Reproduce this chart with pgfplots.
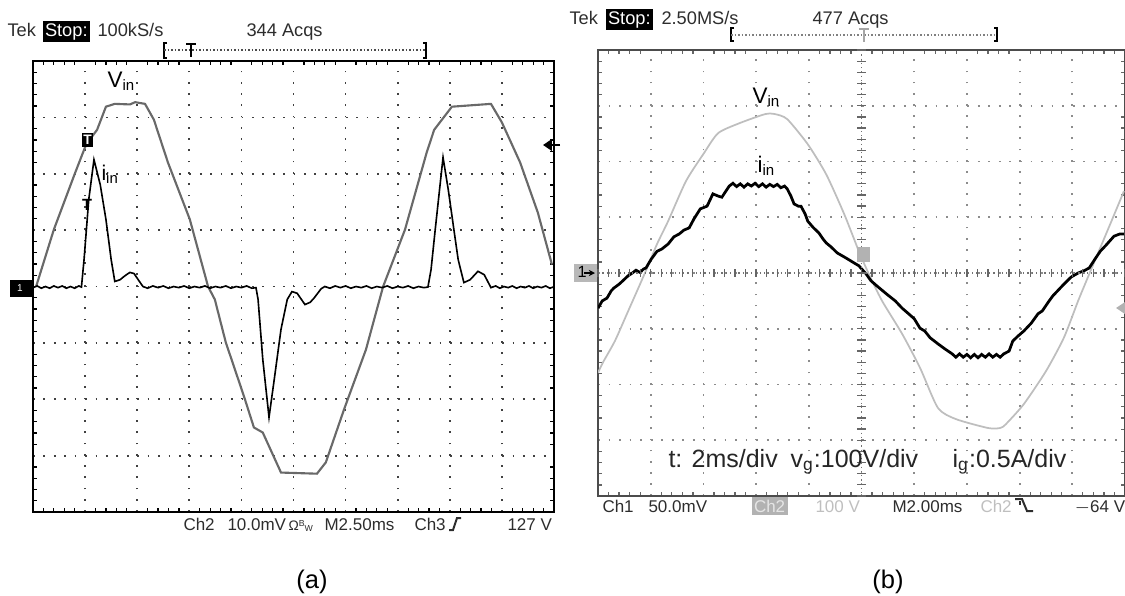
\documentclass[border=0pt]{standalone}
\usepackage{fontspec}
\setmainfont{Liberation Sans}
\usepackage{pgfplots}
\pgfplotsset{compat=1.18}
\usetikzlibrary{arrows.meta}
\definecolor{vinA}{RGB}{105,105,105}
\definecolor{vinB}{RGB}{190,190,190}
\definecolor{hdr}{RGB}{45,45,45}
\pgfplotsset{
  scopeaxis/.style={scale only axis, anchor=south west,
    xmin=0, xmax=10, ymin=-4, ymax=4,
    xtick={0,...,10}, ytick={-4,...,4}, xticklabels={}, yticklabels={},
    minor x tick num=4, minor y tick num=4,
    major tick length=0pt, minor tick length=1.6pt, tick align=inside,
    xmajorgrids, ymajorgrids, clip=true},
}
\newcommand{\hf}{\fontsize{7.3}{8}\selectfont}
\newcommand{\ff}{\fontsize{6.8}{8}\selectfont}
\begin{document}
\begin{tikzpicture}[x=0.4pt,y=-0.4pt]
\path[use as bounding box] (0,0) rectangle (1125,595);

% ---------------- panel (a) ----------------
\begin{axis}[scopeaxis, at={(13.2pt,-204.8pt)}, width=208.4pt, height=180.4pt,
  axis line style={black, line width=0.6pt},
  minor tick style={black, line width=0.5pt},
  major x grid style={black!75, line width=0.7pt, dash pattern=on 0.7pt off 3.81pt},
  major y grid style={black!75, line width=0.7pt, dash pattern=on 0.7pt off 3.47pt}]
\addplot[no marks, color=vinA, line width=0.85pt] table {
x y
0.06 0.00
0.40 1.01
0.81 2.02
1.02 2.52
1.23 2.78
1.40 3.19
1.57 3.24
1.86 3.23
1.96 3.27
2.15 3.24
2.32 2.96
2.59 2.20
3.01 1.19
3.36 0.00
3.49 -0.23
3.70 -0.99
4.05 -1.95
4.24 -2.50
4.41 -2.59
4.76 -3.30
5.45 -3.32
5.62 -3.12
5.97 -2.18
6.39 -1.12
6.72 0.00
7.14 1.01
7.56 2.39
7.70 2.78
8.04 3.19
8.79 3.24
9.00 2.91
9.35 2.20
9.69 1.31
9.96 0.39
};
\addplot[no marks, color=black, line width=0.65pt] table {
x y
0.00 -0.02
0.08 0.01
0.16 -0.03
0.24 0.00
0.32 -0.03
0.40 0.01
0.48 -0.02
0.56 0.01
0.64 -0.03
0.72 0.00
0.80 -0.03
0.88 0.01
0.93 -0.01
0.98 0.48
1.07 1.54
1.17 2.25
1.29 1.81
1.40 1.19
1.50 0.48
1.57 0.09
1.67 0.12
1.75 0.18
1.81 0.22
1.86 0.25
1.94 0.23
2.02 0.12
2.11 0.00
2.20 -0.03
2.30 0.01
2.40 -0.02
2.50 0.01
2.60 -0.03
2.70 0.00
2.80 -0.02
2.90 0.01
3.00 -0.03
3.10 0.00
3.20 -0.02
3.30 0.01
3.40 -0.03
3.50 0.00
3.60 -0.02
3.70 0.01
3.80 -0.03
3.90 0.00
4.00 -0.02
4.10 0.01
4.20 -0.03
4.28 -0.02
4.32 -0.23
4.41 -1.29
4.53 -2.32
4.63 -1.65
4.76 -0.76
4.88 -0.23
4.97 -0.09
5.07 -0.12
5.22 -0.32
5.32 -0.28
5.39 -0.21
5.53 -0.04
5.60 0.00
5.70 -0.03
5.80 0.01
5.90 -0.02
6.00 0.01
6.10 -0.03
6.20 0.00
6.30 -0.02
6.40 0.01
6.50 -0.03
6.60 0.00
6.70 -0.02
6.80 0.01
6.90 -0.03
7.00 0.00
7.10 -0.02
7.20 0.01
7.30 -0.03
7.40 0.00
7.50 -0.02
7.58 -0.01
7.64 0.30
7.72 1.01
7.87 2.29
7.97 1.72
8.06 1.13
8.16 0.48
8.27 0.07
8.39 0.12
8.54 0.27
8.66 0.21
8.79 -0.02
8.88 0.01
8.96 -0.03
9.04 0.00
9.12 -0.02
9.20 0.01
9.28 -0.03
9.36 0.00
9.44 -0.02
9.52 0.01
9.60 -0.03
9.68 0.00
9.76 -0.02
9.84 0.01
9.92 -0.03
9.98 -0.01
};
\end{axis}

% ---------------- panel (b) ----------------
\begin{axis}[scopeaxis, at={(239.2pt,-198.4pt)}, width=210.8pt, height=178.4pt,
  axis line style={black!70, line width=0.6pt},
  minor tick style={black!60, line width=0.5pt},
  major x grid style={black!45, line width=0.7pt, dash pattern=on 0.7pt off 3.76pt},
  major y grid style={black!45, line width=0.7pt, dash pattern=on 0.7pt off 3.52pt}]
\addplot[no marks, color=vinB, line width=0.7pt, smooth, tension=0.4] table {
x y
0.00 -1.79
0.09 -1.61
0.32 -1.22
0.55 -0.73
0.89 0.00
1.12 0.52
1.33 0.93
1.67 1.65
2.01 2.15
2.28 2.51
2.69 2.69
3.17 2.85
3.36 2.85
3.59 2.76
3.98 2.31
4.33 1.77
4.67 1.06
4.95 0.39
5.14 -0.02
5.39 -0.50
5.77 -1.09
6.11 -1.70
6.45 -2.42
6.79 -2.62
7.40 -2.78
7.63 -2.78
7.74 -2.71
8.08 -2.35
8.50 -1.76
8.84 -1.16
9.11 -0.50
9.32 -0.02
9.72 0.88
9.98 1.47
};
\addplot[no marks, color=black, line width=1.1pt] table {
x y
0.00 -0.63
0.08 -0.50
0.17 -0.45
0.25 -0.32
0.30 -0.27
0.40 -0.20
0.47 -0.14
0.57 -0.05
0.65 0.00
0.72 0.05
0.80 0.01
0.86 0.07
0.91 0.09
1.01 0.25
1.12 0.39
1.21 0.43
1.33 0.52
1.44 0.65
1.54 0.70
1.63 0.77
1.73 0.81
1.82 0.97
1.94 1.15
2.07 1.20
2.18 1.42
2.28 1.38
2.35 1.36
2.49 1.56
2.56 1.61
2.63 1.55
2.70 1.60
2.77 1.54
2.84 1.60
2.91 1.56
2.98 1.61
3.05 1.55
3.12 1.60
3.19 1.54
3.26 1.59
3.33 1.55
3.40 1.59
3.47 1.53
3.54 1.56
3.59 1.51
3.66 1.38
3.72 1.24
3.80 1.20
3.85 1.20
3.93 1.06
3.98 0.93
4.08 0.82
4.19 0.72
4.27 0.61
4.33 0.54
4.42 0.47
4.54 0.36
4.65 0.30
4.74 0.25
4.86 0.18
4.95 0.13
5.09 -0.02
5.18 -0.14
5.29 -0.23
5.48 -0.38
5.64 -0.50
5.77 -0.63
5.88 -0.72
6.00 -0.82
6.11 -0.99
6.20 -1.04
6.30 -1.16
6.45 -1.27
6.58 -1.36
6.72 -1.45
6.79 -1.51
6.86 -1.45
6.93 -1.51
7.00 -1.46
7.07 -1.52
7.14 -1.46
7.21 -1.52
7.28 -1.46
7.35 -1.51
7.42 -1.45
7.49 -1.51
7.56 -1.46
7.63 -1.51
7.70 -1.45
7.74 -1.43
7.80 -1.40
7.87 -1.22
7.97 -1.13
8.08 -1.04
8.22 -0.90
8.35 -0.73
8.43 -0.68
8.56 -0.50
8.63 -0.41
8.75 -0.29
8.84 -0.20
8.98 -0.07
9.11 0.00
9.22 0.04
9.32 0.09
9.43 0.25
9.53 0.39
9.64 0.50
9.79 0.66
9.90 0.70
9.98 0.70
};
\end{axis}

% centre cross of panel (b)
\draw[black!55, line width=0.6pt, dash pattern=on 0.5pt off 1.2pt] (861.5,50) -- (861.5,496);
\draw[black!55, line width=0.6pt, dash pattern=on 0.5pt off 1.2pt] (598,273) -- (1125,273);
\foreach \k in {0,...,50} \draw[black!60, line width=0.5pt] ({598+\k*10.54},269) -- ({598+\k*10.54},277);
\foreach \k in {0,...,40} \draw[black!60, line width=0.5pt] (857,{50+\k*11.15}) -- (866,{50+\k*11.15});

% ---------------- headers (a) ----------------
\node[anchor=base west, inner sep=0pt, text=hdr] at (7,36) {\hf Tek};
\node[anchor=base west, fill=black, text=white, inner sep=1pt] at (42,36) {\hf Stop:};
\node[anchor=base west, inner sep=0pt, text=hdr] at (97,36) {\hf 100kS/s};
\node[anchor=base west, inner sep=0pt, text=hdr] at (246,36) {\hf 344 Acqs};
\draw[black, line width=0.8pt] (167,43) -- (164,43) -- (164,58) -- (167,58);
\draw[black, line width=0.8pt] (423,43) -- (426,43) -- (426,58) -- (423,58);
\draw[black!70, line width=0.5pt, dash pattern=on 0.6pt off 0.8pt] (164,50) -- (426,50);
\draw[black, line width=0.8pt] (186,44) -- (196,44) (191,44) -- (191,57);

% ---------------- headers (b) ----------------
\node[anchor=base west, inner sep=0pt, text=hdr] at (569,24) {\hf Tek};
\node[anchor=base west, fill=black, text=white, inner sep=1pt] at (605,24) {\hf Stop:};
\node[anchor=base west, inner sep=0pt, text=hdr] at (661,24) {\hf 2.50MS/s};
\node[anchor=base west, inner sep=0pt, text=hdr] at (812,24) {\hf 477 Acqs};
\draw[black, line width=0.8pt] (734,28) -- (731,28) -- (731,41) -- (734,41);
\draw[black, line width=0.8pt] (994,28) -- (997,28) -- (997,41) -- (994,41);
\draw[black!50, line width=0.5pt, dash pattern=on 0.6pt off 0.8pt] (731,35) -- (997,35);
\draw[black!35, line width=0.9pt] (859,29) -- (869,29) (864,29) -- (864,42);

% ---------------- footers ----------------
\node[anchor=base west, inner sep=0pt, text=hdr] at (183,530) {\ff Ch2};
\node[anchor=base west, inner sep=0pt, text=hdr] at (227,530) {\ff 10.0mV};
\node[anchor=base west, inner sep=0pt, text=hdr] at (288,530) {\fontsize{5.5}{6}\selectfont Ω\raisebox{1.5pt}{\fontsize{3.5}{4}\selectfont B}\raisebox{-0.5pt}{\fontsize{3.5}{4}\selectfont W}};
\node[anchor=base west, inner sep=0pt, text=hdr] at (324,530) {\ff M2.50ms};
\node[anchor=base west, inner sep=0pt, text=hdr] at (414,530) {\ff Ch3};
\draw[hdr, line width=0.8pt] (449,530) -- (453,530) -- (457,518) -- (461,518);
\node[anchor=base west, inner sep=0pt, text=hdr] at (507,530) {\ff 127 V};

\node[anchor=base west, inner sep=0pt, text=hdr] at (602,512) {\ff Ch1};
\node[anchor=base west, inner sep=0pt, text=hdr] at (648,512) {\ff 50.0mV};
\node[anchor=base west, fill=black!30, text=black!10, inner sep=1pt] at (751,512) {\ff Ch2};
\node[anchor=base west, inner sep=0pt, text=black!25] at (815,512) {\ff 100 V};
\node[anchor=base west, inner sep=0pt, text=hdr] at (892,512) {\ff M2.00ms};
\node[anchor=base west, inner sep=0pt, text=black!25] at (980,512) {\ff Ch2};
\draw[hdr, line width=0.8pt] (1015,499) -- (1022,499) -- (1027,511) -- (1033,511);
\draw[hdr, line width=0.6pt] (1020,501) -- (1020,505);
\node[anchor=base west, inner sep=0pt, text=hdr] at (1074,512) {\ff $-$64 V};

% ---------------- markers ----------------
\fill[black] (10,280) rectangle (32,297);
\node[text=white, inner sep=0pt] at (20,288) {\fontsize{4}{4}\selectfont 1};
\fill[black] (82,133) rectangle (93,147);
\node[text=white, inner sep=0pt] at (87.5,140) {\fontsize{5.5}{6}\selectfont\bfseries T};
\node[text=black, inner sep=0pt] at (87,205) {\fontsize{6.5}{7}\selectfont\bfseries T};
\draw[black, line width=0.9pt, -{Triangle[length=3.5pt,width=4.5pt]}] (560,145) -- (543,145);

\fill[black!28] (574,264) rectangle (597,282);
\node[anchor=base west, inner sep=0pt, text=black] at (577,277) {\fontsize{6.5}{7}\selectfont 1};
\draw[black, line width=0.5pt, -{Stealth[length=2.5pt,width=2.5pt]}] (584,273) -- (595,273);
\fill[black!30] (857,247) rectangle (870,262);
\fill[black!30] (1116,308) -- (1125,302) -- (1125,314) -- cycle;

% ---------------- labels ----------------
\node[anchor=base west, inner sep=0pt] at (107,87) {\fontsize{9}{10}\selectfont V\textsubscript{in}};
\node[anchor=base west, inner sep=0pt] at (101,180) {\fontsize{8.5}{9}\selectfont i\textsubscript{in}};
\node[anchor=base west, inner sep=0pt] at (752,103) {\fontsize{9}{10}\selectfont V\textsubscript{in}};
\node[anchor=base west, inner sep=0pt] at (757,172) {\fontsize{9}{10}\selectfont i\textsubscript{in}};
\node[anchor=base west, inner sep=0pt, text=black!85] at (668,467) {\fontsize{10}{11}\selectfont t: 2ms/div};
\node[anchor=base west, inner sep=0pt, text=black!85] at (790,467) {\fontsize{10}{11}\selectfont v\textsubscript{g}:100V/div};
\node[anchor=base west, inner sep=0pt, text=black!85] at (952,467) {\fontsize{10}{11}\selectfont i\textsubscript{g}:0.5A/div};
\node[anchor=base, inner sep=0pt] at (312,588) {\fontsize{10.2}{11}\selectfont (a)};
\node[anchor=base, inner sep=0pt] at (888,588) {\fontsize{10.2}{11}\selectfont (b)};
\end{tikzpicture}
\end{document}
